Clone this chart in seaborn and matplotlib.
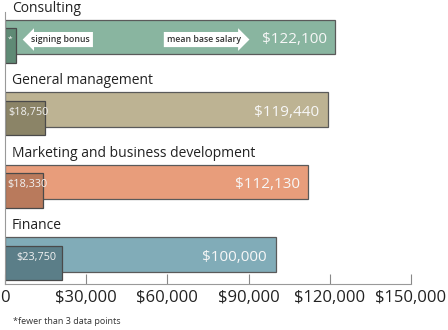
import numpy as np
import pandas as pd
import matplotlib
matplotlib.use("Agg")
import matplotlib.pyplot as plt
import seaborn as sns

# ---- data ----
categories = ["Consulting", "General management",
              "Marketing and business development", "Finance"]
base_salary = [122100, 119440, 112130, 100000]
signing_bonus = [4000, 14800, 14000, 21100]   # bar lengths as drawn
base_labels = ["$122,100", "$119,440", "$112,130", "$100,000"]
bonus_labels = ["*", "$18,750", "$18,330", "$23,750"]
tick_values = [0, 30000, 60000, 90000, 120000, 150000]
tick_labels = ["0", "$30,000", "$60,000", "$90,000", "$120,000", "$150,000"]
footnote = "*fewer than 3 data points"

main_colors = ["#89b5a0", "#bdb393", "#e89d7b", "#81acb8"]
bonus_colors = ["#5f8a75", "#8b8467", "#b97a5c", "#5b7e88"]

sns.set_theme(style="white")
plt.rcParams["font.family"] = ["Open Sans", "DejaVu Sans"]

fig = plt.figure(figsize=(4.48, 3.30), dpi=100)
ax = fig.add_axes([5 / 448, 46 / 330, 406 / 448, 272 / 330])

ypos = np.arange(len(categories), dtype=float)
bonus_offset = 0.117
bar_w = 0.47

df_main = pd.DataFrame({"cat": categories, "val": base_salary, "y": ypos})
df_bonus = pd.DataFrame({"cat": categories, "val": signing_bonus,
                         "y": ypos + bonus_offset})

sns.barplot(data=df_main, x="val", y="y", hue="cat", orient="h",
            native_scale=True, dodge=False, width=bar_w, errorbar=None,
            palette=dict(zip(categories, main_colors)), legend=False,
            saturation=1, edgecolor="#5a5a5a", linewidth=0.9, ax=ax)
sns.barplot(data=df_bonus, x="val", y="y", hue="cat", orient="h",
            native_scale=True, dodge=False, width=bar_w, errorbar=None,
            palette=dict(zip(categories, bonus_colors)), legend=False,
            saturation=1, edgecolor="#4a4a4a", linewidth=0.9, ax=ax)

ax.set_xlim(0, 150000)
ax.set_ylim(3.407, -0.345)

# category titles
for y, c in zip(ypos, categories):
    ax.text(2600, y - 0.395, c, ha="left", va="center", fontsize=10,
            color="#222222", clip_on=False)

# value labels
for y, v, lab in zip(ypos, base_salary, base_labels):
    ax.text(v - 3300, y + 0.035, lab, ha="right", va="center",
            fontsize=11, color="#f7f7f7")
for i, (y, v, lab) in enumerate(zip(ypos, signing_bonus, bonus_labels)):
    if lab == "*":
        ax.text(v / 2, y + 0.03, lab, ha="center", va="center",
                fontsize=6, color="white")
    else:
        ax.text(v / 2 + 1200, y + 0.035, lab, ha="center", va="center",
                fontsize=7.8, color="#f2f2f2")

# callouts on the first bar
ax.text(20500, 0.035, "signing bonus", ha="center", va="center",
        fontsize=6.3, color="#333333", fontweight="semibold",
        bbox=dict(boxstyle="larrow,pad=0.35", fc="white", ec="none"))
ax.text(73500, 0.035, "mean base salary", ha="center", va="center",
        fontsize=6.3, color="#333333", fontweight="semibold",
        bbox=dict(boxstyle="rarrow,pad=0.35", fc="white", ec="none"))

# axes styling
ax.set_xticks(tick_values)
ax.set_xticklabels(tick_labels)
ax.set_yticks([])
ax.set_xlabel("")
ax.set_ylabel("")
ax.tick_params(axis="x", direction="in", length=7, width=0.8,
               color="#888888", labelsize=12, labelcolor="#222222",
               pad=4, bottom=True)
for s in ["top", "right"]:
    ax.spines[s].set_visible(False)
for s in ["left", "bottom"]:
    ax.spines[s].set_color("#999999")
    ax.spines[s].set_linewidth(0.8)

fig.text(13 / 448, 1 - 322 / 330, footnote, ha="left", va="center",
         fontsize=6.5, color="#333333")

fig.savefig("out.png", dpi=100)
